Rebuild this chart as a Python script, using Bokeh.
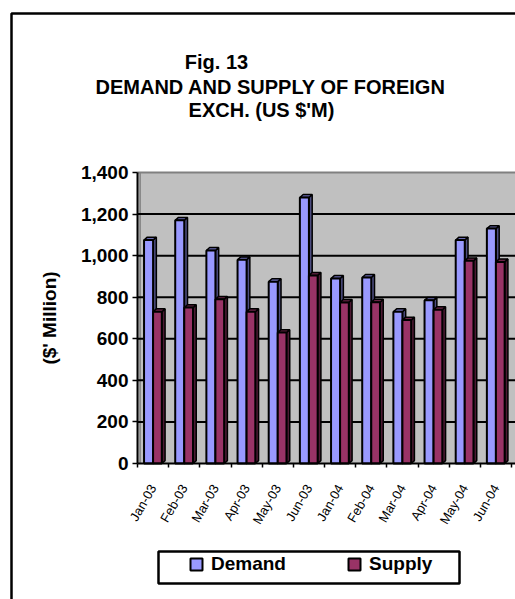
import numpy as np
from bokeh.plotting import figure
from bokeh.models import (FixedTicker, NumeralTickFormatter, Legend, LegendItem,
                          Range1d, BoxAnnotation, Label)
from bokeh.embed import file_html
from bokeh.resources import INLINE

# ---- data ----
months = ["Jan-03", "Feb-03", "Mar-03", "Apr-03", "May-03", "Jun-03",
          "Jan-04", "Feb-04", "Mar-04", "Apr-04", "May-04", "Jun-04"]
demand = [1075, 1170, 1025, 980, 875, 1280, 890, 895, 730, 785, 1075, 1130]
supply = [730, 750, 790, 730, 630, 905, 775, 776, 690, 740, 975, 970]
y_ticks = [0, 200, 400, 600, 800, 1000, 1200, 1400]
title_lines = ["Fig. 13", "DEMAND AND SUPPLY  OF FOREIGN", "EXCH. (US $'M)"]

DEM = "#9999FF"
DEM_SIDE = "#4D4D80"
DEM_TOP = "#6B6BB3"
SUP = "#993366"
SUP_SIDE = "#4D1A33"
SUP_TOP = "#6B2447"
WALL = "#C0C0C0"
FONT = "Liberation Sans"

W, H = 515, 599
# plot-area geometry in pixels (layout only)
AX_X, AX_Y0, AX_Y1 = 137.0, 463.0, 172.0
CAT_PX = 374.0 / 12.0
VAL_PX = (AX_Y0 - AX_Y1) / 1400.0

n = len(months)
idx = np.arange(n)
centers = [float(i) + 0.5 for i in idx]
bounds = [float(i) for i in range(n + 1)]

x_start = -AX_X / CAT_PX
x_end = (W - AX_X) / CAT_PX
y_start = -(H - AX_Y0) / VAL_PX
y_end = 1400 + AX_Y1 / VAL_PX

DX = 0.105   # 3-D depth in category units
DY = 14.0    # 3-D depth in value units

p = figure(width=W, height=H, output_backend="svg", toolbar_location=None,
           x_range=Range1d(x_start, x_end), y_range=Range1d(y_start, y_end),
           min_border=0)
p.title.visible = False
p.background_fill_color = "white"
p.border_fill_color = "white"
p.outline_line_color = None

# back wall
p.quad(left=[0], right=[x_end], bottom=[0], top=[y_ticks[-1]],
       fill_color=WALL, line_color=None)
# side wall edge
p.segment(x0=[DX * 0.8], y0=[0], x1=[DX * 0.8], y1=[y_ticks[-1]],
          line_color="#808080", line_width=1.5)
# gridlines
inner = [t for t in y_ticks if 0 < t < y_ticks[-1]]
p.segment(x0=[0] * len(inner), y0=inner, x1=[x_end] * len(inner), y1=inner,
          line_color="black", line_width=2)
p.segment(x0=[0], y0=[y_ticks[-1]], x1=[x_end], y1=[y_ticks[-1]],
          line_color="#808080", line_width=2)


def draw_bars(vals, x0, x1, front, side, top):
    vals = np.asarray(vals, dtype=float)
    side_xs = [[a, a + DX, a + DX, a] for a in x1]
    side_ys = [[0.0, DY, v + DY, v] for v in vals]
    p.patches(side_xs, side_ys, fill_color=side, line_color="black", line_width=1.5)
    top_xs = [[a, a + DX, b + DX, b] for a, b in zip(x0, x1)]
    top_ys = [[v, v + DY, v + DY, v] for v in vals]
    p.patches(top_xs, top_ys, fill_color=top, line_color="black", line_width=1.5)
    p.quad(left=x0, right=x1, bottom=0, top=vals, fill_color=front,
           line_color="black", line_width=2)


draw_bars(demand, idx + 0.21, idx + 0.50, DEM, DEM_SIDE, DEM_TOP)
draw_bars(supply, idx + 0.50, idx + 0.78, SUP, SUP_SIDE, SUP_TOP)

# y axis
yax = p.yaxis[0]
yax.fixed_location = 0
yax.bounds = (0, y_ticks[-1])
yax.ticker = FixedTicker(ticks=y_ticks)
yax.formatter = NumeralTickFormatter(format="0,0")
yax.major_label_text_font = FONT
yax.major_label_text_font_size = "19px"
yax.major_label_text_font_style = "bold"
yax.major_label_text_color = "black"
yax.major_tick_out = 5
yax.major_tick_in = 0
yax.major_tick_line_width = 1.5
yax.minor_tick_line_color = None
yax.major_label_standoff = 4
yax.axis_line_width = 2
yax.axis_label = "($' Million)"
yax.axis_label_text_font = FONT
yax.axis_label_text_font_size = "19px"
yax.axis_label_text_font_style = "bold"
yax.axis_label_text_color = "black"
yax.axis_label_standoff = 18

# x axis
xax = p.xaxis[0]
xax.fixed_location = 0
xax.bounds = (0, x_end)
xax.ticker = FixedTicker(ticks=centers, minor_ticks=bounds)
xax.major_label_overrides = {c: m for c, m in zip(centers, months)}
xax.major_label_orientation = np.pi / 3
xax.major_label_text_font = FONT
xax.major_label_text_font_size = "13px"
xax.major_label_text_color = "black"
xax.major_tick_out = 0
xax.major_tick_in = 0
xax.minor_tick_out = 4
xax.minor_tick_in = 0
xax.minor_tick_line_color = "black"
xax.minor_tick_line_width = 1.5
xax.major_label_standoff = 18
xax.axis_line_width = 2

p.xgrid.visible = False
p.ygrid.visible = False

# titles
for text, cx, cy in zip(title_lines, [216, 273, 261], [61.5, 86.5, 109.5]):
    p.add_layout(Label(x=cx, y=H - cy, x_units="screen", y_units="screen", text=text,
                       text_font=FONT, text_font_size="20px", text_font_style="bold",
                       text_color="black", text_align="center", text_baseline="middle"))

# outer chart border
p.add_layout(BoxAnnotation(left=11, right=W + 20, top=H - 13, bottom=-20,
                           left_units="screen", right_units="screen",
                           top_units="screen", bottom_units="screen",
                           fill_alpha=0, line_color="black", line_alpha=1,
                           line_width=2.5))

# legend box
p.add_layout(BoxAnnotation(left=158, right=459, top=H - 551, bottom=H - 583,
                           left_units="screen", right_units="screen",
                           top_units="screen", bottom_units="screen",
                           fill_color="white", fill_alpha=1, line_color="black",
                           line_alpha=1, line_width=2.5, level="annotation"))

# legend
r_d = p.scatter(x=[x_start - 10], y=[y_start - 100], marker="square",
                fill_color=DEM, line_color="black", line_width=2)
r_s = p.scatter(x=[x_start - 10], y=[y_start - 100], marker="square",
                fill_color=SUP, line_color="black", line_width=2)
legend = Legend(items=[LegendItem(label="Demand", renderers=[r_d]),
                       LegendItem(label="Supply", renderers=[r_s])],
                orientation="horizontal", location=(181, 20),
                glyph_width=30, glyph_height=30, label_standoff=0,
                label_width=75, spacing=53, padding=0, margin=0,
                border_line_color=None, background_fill_alpha=0,
                label_text_font=FONT, label_text_font_size="19px",
                label_text_font_style="bold", label_text_color="black")
p.add_layout(legend)

open("out.html", "w").write(file_html(p, INLINE))
